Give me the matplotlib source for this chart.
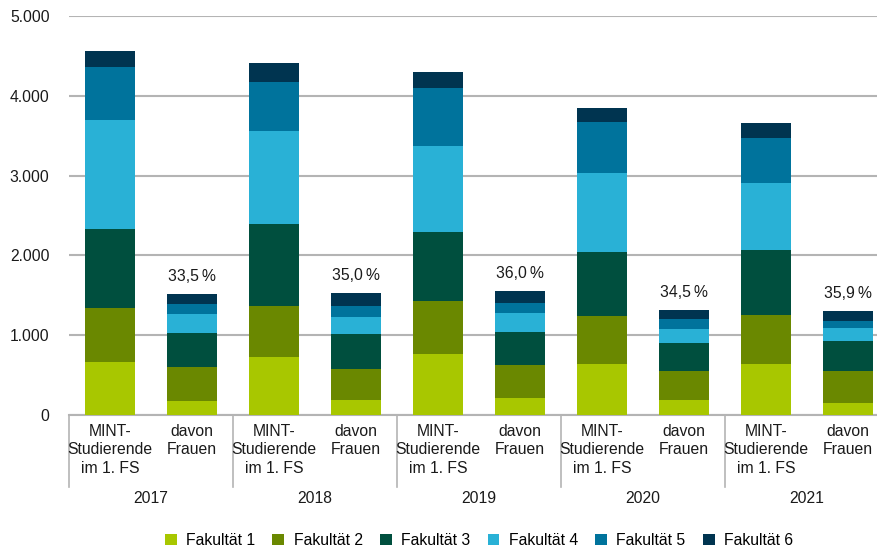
import matplotlib.pyplot as plt
import numpy as np

plt.rcParams['font.family'] = ['Liberation Sans', 'DejaVu Sans']

years = ['2017', '2018', '2019', '2020', '2021']
groups = ['MINT-\nStudierende\nim 1. FS', 'davon\nFrauen']
faculties = ['Fakultät 1', 'Fakultät 2', 'Fakultät 3', 'Fakultät 4', 'Fakultät 5', 'Fakultät 6']
colors = ['#a8c700', '#6a8800', '#004f3e', '#29b1d6', '#00739c', '#003450']

# bars in order: 2017 MINT, 2017 Frauen, 2018 MINT, ...
fak1 = [668, 175, 727, 192, 764, 213, 639, 188, 639, 150]
fak2 = [677, 427, 643, 384, 665, 414, 602, 363, 614, 401]
fak3 = [986, 426, 1023, 439, 864, 413, 802, 351, 815, 376]
fak4 = [1370, 242, 1166, 213, 1078, 238, 990, 176, 839, 163]
fak5 = [660, 121, 614, 138, 727, 126, 639, 125, 564, 88]
fak6 = [200, 125, 238, 163, 200, 150, 175, 113, 188, 125]
share_women = ['33,5\u2009%', '35,0\u2009%', '36,0\u2009%', '34,5\u2009%', '35,9\u2009%']

W, H = 877, 549
fig = plt.figure(figsize=(W / 100, H / 100), dpi=100)
ax = fig.add_axes([69 / W, 1 - 415 / H, 820 / W, 399 / H])

data = [fak1, fak2, fak3, fak4, fak5, fak6]
x = np.arange(10)
bottom = np.zeros(10)
for vals, col, lab in zip(data, colors, faculties):
    ax.bar(x, vals, 0.61, bottom=bottom, color=col, label=lab, zorder=3)
    bottom += np.array(vals)

fs = 11.3
for k, txt in enumerate(share_women):
    i = 2 * k + 1
    ax.text(i, bottom[i] + 120, txt, ha='center', va='bottom', fontsize=fs, color='#1a1a1a')

ax.set_xlim(-0.5, 9.5)
ax.set_ylim(0, 5000)
ax.set_yticks(range(0, 5001, 1000))
ax.set_yticklabels(['0', '1.000', '2.000', '3.000', '4.000', '5.000'], fontsize=fs,
                   color='#1a1a1a')
ax.tick_params(axis='y', length=0, pad=14)
ax.tick_params(axis='x', length=0, labelbottom=False)
ax.yaxis.grid(True, color='#b4b4b4', linewidth=1.5, zorder=0)
for s in ['top', 'right', 'left']:
    ax.spines[s].set_visible(False)
ax.spines['bottom'].set_color('#b4b4b4')
ax.spines['bottom'].set_linewidth(1.5)

tr = ax.get_xaxis_transform()
for k, yr in enumerate(years):
    for j, g in enumerate(groups):
        ax.text(2 * k + j, -0.022, g, transform=tr, ha='center', va='top',
                fontsize=fs, linespacing=1.3, color='#1a1a1a')
    ax.text(2 * k + 0.5, -0.19, yr, transform=tr, ha='center', va='top',
            fontsize=fs, color='#1a1a1a')
for k in range(6):
    ax.plot([2 * k - 0.5, 2 * k - 0.5], [0, -0.18], transform=tr, color='#b4b4b4',
            linewidth=1.2, clip_on=False)

ax.legend(loc='upper center', bbox_to_anchor=(0.5, -0.26), ncol=6, frameon=False,
          fontsize=fs, handlelength=0.75, handleheight=0.75, handletextpad=0.6,
          columnspacing=1.1)

fig.savefig('out.png', dpi=100)
